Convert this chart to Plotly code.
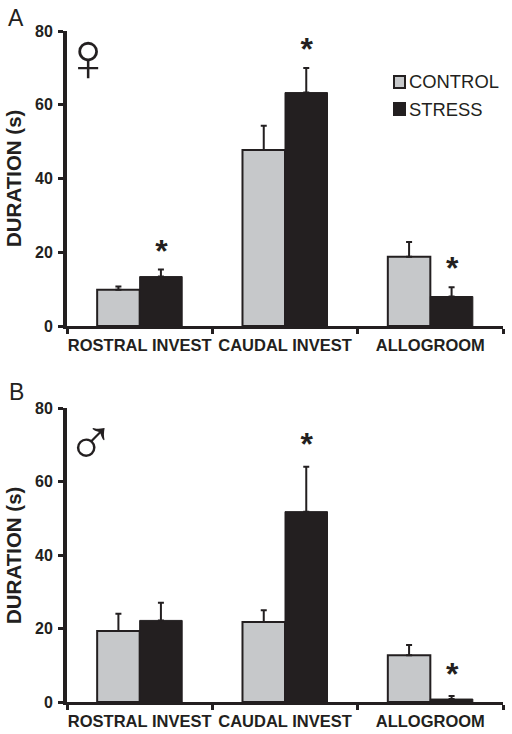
import plotly.graph_objects as go

categories = ["ROSTRAL INVEST", "CAUDAL INVEST", "ALLOGROOM"]
positions = [0.5, 1.5, 2.5]
boundaries = [0, 1, 2, 3]
y_ticks = [0, 20, 40, 60, 80]

a_control = [9.8, 47.7, 18.8]
a_control_err = [0.9, 6.6, 4.0]
a_stress = [13.4, 63.3, 8.0]
a_stress_err = [1.9, 6.7, 2.5]

b_control = [19.3, 21.8, 12.7]
b_control_err = [4.7, 3.2, 2.8]
b_stress = [22.2, 51.8, 0.8]
b_stress_err = [4.8, 12.2, 0.8]

a_stars_x = [0.65, 1.65, 2.65]
a_stars_y = [19.5, 74.3, 15.0]
b_stars_x = [1.65, 2.65]
b_stars_y = [69.4, 6.8]

legend_names = ["CONTROL", "STRESS"]

INK = "#231f20"
GREY = "#c6c8ca"
FONT = "Liberation Sans"

fig = go.Figure()


def add_panel(control, cerr, stress, serr, xa, ya):
    fig.add_bar(x=positions, y=control, name=legend_names[0], xaxis=xa, yaxis=ya, showlegend=False,
                offsetgroup="c",
                marker=dict(color=GREY, line=dict(color=INK, width=2)),
                error_y=dict(type="data", symmetric=False, array=cerr, arrayminus=[0, 0, 0],
                             color=INK, thickness=2, width=3))
    fig.add_bar(x=positions, y=stress, name=legend_names[1], xaxis=xa, yaxis=ya, showlegend=False,
                offsetgroup="s",
                marker=dict(color=INK, line=dict(color=INK, width=1)),
                error_y=dict(type="data", symmetric=False, array=serr, arrayminus=[0, 0, 0],
                             color=INK, thickness=2, width=3))


add_panel(a_control, a_control_err, a_stress, a_stress_err, "x", "y")
add_panel(b_control, b_control_err, b_stress, b_stress_err, "x2", "y2")

star_font = dict(family=FONT, size=32, color=INK, weight="bold")
fig.add_scatter(x=a_stars_x, y=a_stars_y, mode="text", text=["*"] * 3, xaxis="x", yaxis="y",
                showlegend=False, textfont=star_font, cliponaxis=False)
fig.add_scatter(x=b_stars_x, y=b_stars_y, mode="text", text=["*"] * 2, xaxis="x2", yaxis="y2",
                showlegend=False, textfont=star_font, cliponaxis=False)

W, H = 512, 734
xdom = [67 / W, 503 / W]
xaxis_style = dict(range=[0, 3], domain=xdom, tickmode="array", tickvals=positions, ticktext=categories,
                   ticks="", showgrid=False, zeroline=False, showline=True, linecolor=INK, linewidth=3,
                   automargin=False, ticklabelstandoff=2,
                   tickfont=dict(family=FONT, size=16.5, color=INK, weight="bold"),
                   minor=dict(tickmode="array", tickvals=boundaries, ticks="outside", ticklen=5,
                              tickwidth=3, tickcolor=INK))
yaxis_style = dict(range=[0, 80], tickmode="array", tickvals=y_ticks, ticks="outside", ticklen=5, tickwidth=3,
                   tickcolor=INK, showgrid=False, zeroline=False, showline=True, linecolor=INK, linewidth=4,
                   automargin=False, ticklabelstandoff=2,
                   tickfont=dict(family=FONT, size=16, color=INK, weight="bold"))

ann = [
    dict(text="A", x=16 / W, y=1 - 18 / H, font=dict(size=23)),
    dict(text="B", x=16 / W, y=1 - 392 / H, font=dict(size=23)),
    dict(text="♀", x=88 / W, y=1 - 57 / H, font=dict(size=70)),
    dict(text="♂", x=91 / W, y=1 - 442 / H, font=dict(size=66)),
    dict(text="DURATION (s)", x=13 / W, y=1 - 179 / H, textangle=-90, font=dict(size=20.5, weight="bold")),
    dict(text="DURATION (s)", x=13 / W, y=1 - 556 / H, textangle=-90, font=dict(size=20.5, weight="bold")),
    dict(text=legend_names[0], x=407 / W, y=1 - 82 / H, xanchor="left", font=dict(size=18.4)),
    dict(text=legend_names[1], x=407 / W, y=1 - 109 / H, xanchor="left", font=dict(size=18.4)),
]
for a in ann:
    a.setdefault("xanchor", "center")
    a.update(xref="paper", yref="paper", showarrow=False, yanchor="middle")
    a["font"] = {"family": FONT, "color": INK, **a["font"]}

swatches = [
    dict(x0=394 / W, x1=405 / W, y0=1 - 88 / H, y1=1 - 76 / H, fillcolor=GREY, line=dict(color=INK, width=2)),
    dict(x0=394 / W, x1=405 / W, y0=1 - 115 / H, y1=1 - 103 / H, fillcolor=INK, line=dict(color=INK, width=2)),
]
for s in swatches:
    s.update(type="rect", xref="paper", yref="paper")

fig.update_layout(
    width=W, height=H, margin=dict(l=0, r=0, t=0, b=0), paper_bgcolor="white", plot_bgcolor="white",
    barmode="group", bargap=0.415, bargroupgap=0, showlegend=False,
    xaxis=dict(**xaxis_style, anchor="y"),
    yaxis=dict(**yaxis_style, domain=[1 - 326 / H, 1 - 31 / H], anchor="x"),
    xaxis2=dict(**xaxis_style, anchor="y2"),
    yaxis2=dict(**yaxis_style, domain=[1 - 702 / H, 1 - 408 / H], anchor="x2"),
    annotations=ann, shapes=swatches,
)
fig.write_html("out.html", post_script="document.body.style.margin='0';", config={"displayModeBar": False})
